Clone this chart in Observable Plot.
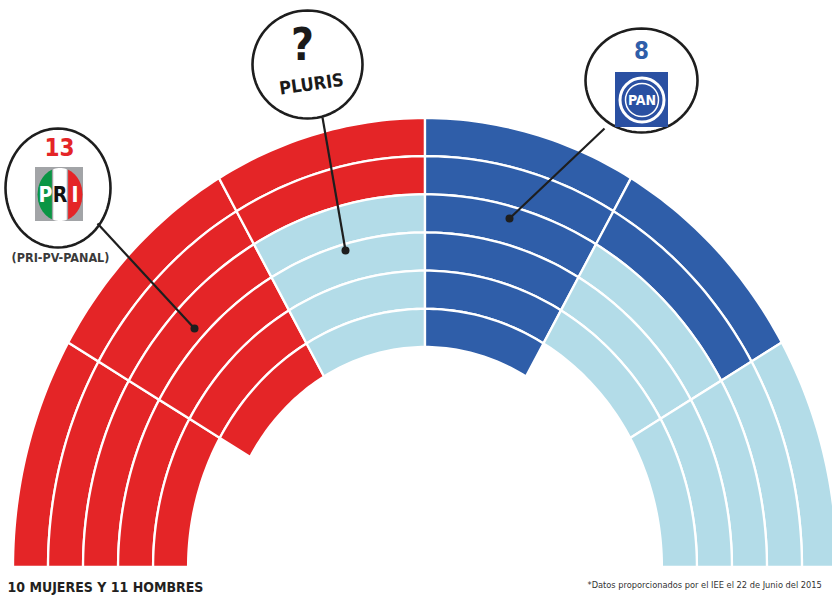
<!DOCTYPE html>
<html>
<head>
<meta charset="utf-8">
<script src="https://cdn.jsdelivr.net/npm/d3@7"></script>
<script src="https://cdn.jsdelivr.net/npm/@observablehq/plot@0.6"></script>
<style>
  html, body { margin: 0; padding: 0; background: #fff; overflow: hidden; }
  #chart { width: 832px; height: 596px; overflow: hidden; position: relative; }
  #chart svg text { font-stretch: condensed; }
</style>
</head>
<body>
<div id="chart"></div>
<script>
// ---- data ----
const sectors = ["S1", "S2", "S3", "S4", "S5", "S6"];   // left to right, equal angles
const priSeats    = [5, 6, 2, 0, 0, 0];                 // outer rings first
const panSeats    = [0, 0, 0, 6, 2, 0];
const plurisSeats = [0, 0, 4, 0, 3, 5];                 // inner rings
const parties = ["PRI", "PAN", "PLURIS"];
const partyColors = ["#e42527", "#2f5ea9", "#b3dce8"];
const bubbleTexts = ["13", "?", "8"];
const coalitionLabel = "(PRI-PV-PANAL)";
const plurisLabel = "PLURIS";
const genderNote = "10 MUJERES Y 11 HOMBRES";
const sourceNote = "*Datos proporcionados por el IEE el 22 de Junio del 2015";

// ---- layout ----
const W = 832, H = 596;
const CX = 424.5, CY = 566.5, RX = 412, RY = 449;
const RING = 0.085;
const SPAN = 180 / sectors.length;
const fx = px => (px - CX) / RX;
const fy = py => (CY - py) / RY;
const FONT = "'DejaVu Sans Condensed', 'DejaVu Sans', sans-serif";

// seats
const seats = [];
sectors.forEach((s, i) => {
  const counts = [priSeats[i], panSeats[i], plurisSeats[i]];
  let ring = 0;
  parties.forEach((p, k) => {
    for (let n = 0; n < counts[k]; n++) {
      seats.push({sector: s, ring, party: p, a0: 180 - SPAN * i, a1: 180 - SPAN * (i + 1)});
      ring++;
    }
  });
});
const N = 30;
const seatPts = seats.flatMap((d, id) => {
  const ro = 1 - d.ring * RING, ri = 1 - (d.ring + 1) * RING;
  const pts = [];
  for (let k = 0; k <= N; k++) {
    const a = (d.a0 + (d.a1 - d.a0) * k / N) * Math.PI / 180;
    pts.push({id, party: d.party, x: ro * Math.cos(a), y: ro * Math.sin(a)});
  }
  for (let k = N; k >= 0; k--) {
    const a = (d.a0 + (d.a1 - d.a0) * k / N) * Math.PI / 180;
    pts.push({id, party: d.party, x: ri * Math.cos(a), y: ri * Math.sin(a)});
  }
  return pts;
});

// callout bubbles (pixel layout)
const bubbles = [
  {name: "PRI", cx: 57.5, cy: 187.5, rx: 52.5, ry: 59.5, from: [97, 223], to: [194, 328]},
  {name: "PLURIS", cx: 307, cy: 64, rx: 55, ry: 54, from: [322, 117], to: [345, 250]},
  {name: "PAN", cx: 641, cy: 80, rx: 56, ry: 52, from: [604, 128], to: [509, 218]}
];
const ellipsePts = bubbles.flatMap(b => d3.range(0, 73).map(k => {
  const a = k / 72 * 2 * Math.PI;
  return {id: b.name, x: fx(b.cx + b.rx * Math.cos(a)), y: fy(b.cy + b.ry * Math.sin(a))};
}));
const leaders = bubbles.map(b => ({x1: fx(b.from[0]), y1: fy(b.from[1]), x2: fx(b.to[0]), y2: fy(b.to[1])}));

// PRI logo stripes
const logoC = {cx: 59.5, cy: 194, rx: 22.5, ry: 26.5};
const stripes = [
  {id: "g", color: "#0a9544", u0: -1, u1: -0.36},
  {id: "w", color: "#ffffff", u0: -0.30, u1: 0.30},
  {id: "r", color: "#e42527", u0: 0.36, u1: 1}
];
const stripePts = stripes.flatMap(s => {
  const pts = [];
  for (let k = 0; k <= 20; k++) {
    const u = s.u0 + (s.u1 - s.u0) * k / 20;
    pts.push({id: s.id, color: s.color, x: fx(logoC.cx + logoC.rx * u), y: fy(logoC.cy - logoC.ry * Math.sqrt(Math.max(0, 1 - u * u)))});
  }
  for (let k = 20; k >= 0; k--) {
    const u = s.u0 + (s.u1 - s.u0) * k / 20;
    pts.push({id: s.id, color: s.color, x: fx(logoC.cx + logoC.rx * u), y: fy(logoC.cy + logoC.ry * Math.sqrt(Math.max(0, 1 - u * u)))});
  }
  return pts;
});

const texts = [
  {t: bubbleTexts[0], x: 59, y: 148, size: 24, color: "#e42527", weight: "bold", rot: 0, anchor: "middle"},
  {t: bubbleTexts[1], x: 302, y: 45, size: 44, color: "#1a1a1a", weight: "bold", rot: 0, anchor: "middle"},
  {t: bubbleTexts[2], x: 641, y: 51, size: 24, color: "#2f5ea9", weight: "bold", rot: 0, anchor: "middle"},
  {t: coalitionLabel, x: 60, y: 257, size: 12.5, color: "#3a3a3a", weight: "bold", rot: 0, anchor: "middle"},
  {t: plurisLabel, x: 311, y: 84, size: 18, color: "#1a1a1a", weight: "bold", rot: -8, anchor: "middle"},
  {t: "P", x: 45, y: 195, size: 21, color: "#ffffff", weight: "bold", rot: 0, anchor: "middle"},
  {t: "R", x: 59.5, y: 195, size: 21, color: "#111111", weight: "bold", rot: 0, anchor: "middle"},
  {t: "I", x: 74.5, y: 195, size: 21, color: "#ffffff", weight: "bold", rot: 0, anchor: "middle"},
  {t: "PAN", x: 641.5, y: 100, size: 14, color: "#ffffff", weight: "bold", rot: 0, anchor: "middle"},
  {t: genderNote, x: 7, y: 587, size: 14, color: "#231f20", weight: "bold", rot: 0, anchor: "start"},
  {t: sourceNote, x: 587, y: 585, size: 9.2, color: "#333333", weight: "normal", rot: 0, anchor: "start"}
].map(d => ({...d, x: fx(d.x), y: fy(d.y)}));

const textMarks = texts.map(d => Plot.text([d], {
  x: "x", y: "y", text: "t", fill: d.color, fontSize: d.size, fontWeight: d.weight,
  fontFamily: FONT, rotate: d.rot, textAnchor: d.anchor
}));

const chart = Plot.plot({
  width: W, height: H,
  marginTop: 0, marginRight: 0, marginBottom: 0, marginLeft: 0,
  x: {domain: [-1, 1], range: [CX - RX, CX + RX], axis: null},
  y: {domain: [0, 1], range: [CY, CY - RY], axis: null},
  color: {domain: parties, range: partyColors},
  style: {background: "#fff", overflow: "hidden"},
  marks: [
    Plot.line(seatPts, {x: "x", y: "y", z: "id", fill: "party", stroke: "#ffffff", strokeWidth: 2.3,
      curve: "linear-closed", strokeLinejoin: "miter", strokeMiterlimit: 4}),
    Plot.line(ellipsePts, {x: "x", y: "y", z: "id", fill: "#ffffff", stroke: "#1e1e1e", strokeWidth: 2.6, curve: "linear-closed"}),
    Plot.link(leaders, {x1: "x1", y1: "y1", x2: "x2", y2: "y2", stroke: "#1e1e1e", strokeWidth: 2.2}),
    Plot.dot(leaders, {x: "x2", y: "y2", r: 4, fill: "#1e1e1e"}),
    // PRI logo
    Plot.rect([{x1: fx(35), x2: fx(83), y1: fy(167), y2: fy(221)}], {x1: "x1", x2: "x2", y1: "y1", y2: "y2", fill: "#a2a4a7"}),
    Plot.line(stripePts, {x: "x", y: "y", z: "id", fill: d => d.color, stroke: "none", curve: "linear-closed"}),
    // PAN logo
    Plot.rect([{x1: fx(615), x2: fx(668), y1: fy(72), y2: fy(127)}], {x1: "x1", x2: "x2", y1: "y1", y2: "y2", fill: "#2a50a2"}),
    Plot.dot([{x: fx(641.5), y: fy(99.5)}], {x: "x", y: "y", r: 22, stroke: "#ffffff", strokeWidth: 3, fill: "none"}),
    Plot.dot([{x: fx(641.5), y: fy(99.5)}], {x: "x", y: "y", r: 16.5, stroke: "#ffffff", strokeWidth: 1.5, fill: "none"}),
    ...textMarks
  ]
});
document.getElementById("chart").appendChild(chart);
</script>
</body>
</html>
